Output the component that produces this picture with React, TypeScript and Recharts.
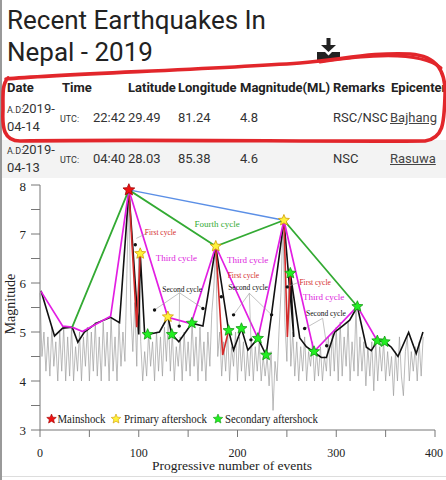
import {
  ComposedChart,
  Line,
  Scatter,
  XAxis,
  YAxis,
  ReferenceLine
} from "recharts";

// raw magnitudes, one value every 2 events (event = index * 2)
const noiseMag = [
  5.8, 4.5, 5.0, 4.2, 4.9, 4.1, 5.1, 4.3, 4.8, 4.0,
  5.0, 4.2, 5.1, 4.0, 4.9, 4.1, 5.1, 4.0, 4.7, 4.2,
  5.0, 4.0, 4.9, 4.3, 5.1, 4.0, 5.0, 4.2, 5.2, 4.1,
  4.9, 4.0, 5.2, 4.3, 5.0, 4.0, 5.3, 4.2, 4.9, 4.0,
  5.2, 4.3, 5.0, 4.4, 6.2, 7.9, 5.4, 4.6, 5.6, 4.3,
  6.6, 4.8, 4.0, 4.6, 4.1, 5.0, 4.3, 4.8, 4.0, 5.0,
  4.2, 4.9, 4.1, 5.1, 4.4, 5.3, 4.2, 5.0, 4.0, 4.7,
  4.3, 4.9, 4.0, 5.0, 4.2, 4.8, 4.1, 5.2, 4.3, 4.9,
  4.0, 5.1, 4.2, 4.8, 4.0, 5.0, 4.3, 5.4, 5.9, 6.75,
  4.5, 5.0, 4.1, 4.8, 4.2, 5.0, 4.0, 4.7, 4.3, 5.0,
  4.0, 4.9, 4.2, 4.8, 4.0, 4.6, 4.1, 4.9, 4.0, 4.7,
  4.2, 4.8, 4.0, 4.5, 4.1, 4.5, 3.9, 4.6, 3.4, 4.4,
  4.0, 5.0, 5.8, 7.28, 5.2, 4.4, 6.2, 4.3, 5.0, 4.1,
  4.8, 4.0, 4.7, 4.2, 4.9, 4.0, 4.6, 4.3, 4.8, 4.0,
  4.6, 4.1, 4.7, 4.0, 4.5, 4.2, 4.9, 4.1, 5.0, 4.2,
  5.1, 4.0, 5.2, 4.1, 4.9, 4.3, 5.2, 4.0, 4.8, 4.2,
  5.5, 4.1, 4.9, 4.2, 4.8, 3.9, 4.7, 4.1, 4.8, 3.8,
  4.8, 4.0, 4.7, 4.2, 4.8, 4.0, 4.6, 4.1, 4.5, 3.7,
  4.6, 4.0, 4.9, 4.1, 3.7, 4.6, 4.9, 4.0, 4.6, 4.2,
  4.7, 4.0, 4.8, 4.1, 4.9
];

// [event, magnitude]
const secondCycle = [
  [1, 5.84], [14.7, 4.92], [23, 5.08], [32.6, 5.1], [38.3, 4.79], [45, 5.0],
  [57, 5.18], [71.5, 5.3], [80.5, 5.19], [90, 7.9], [100, 4.95], [101.5, 6.6],
  [106, 4.95], [109, 4.95], [121, 5.0], [129.5, 5.31], [133.5, 4.95], [140.6, 4.8],
  [153.8, 5.18], [165, 5.12], [178, 6.75], [191, 5.03], [196, 4.63], [204, 5.07],
  [210.5, 4.63], [220.7, 4.87], [229, 4.53], [247, 7.28], [257, 4.9], [253.5, 6.2],
  [263, 4.88], [269.7, 4.7], [284.9, 4.48], [290, 4.48], [298.4, 5.0], [305, 5.1],
  [313.6, 5.24], [321.4, 5.52], [330.5, 4.69], [335.5, 4.62], [341.6, 4.82], [349, 4.8],
  [355.8, 4.69], [362.5, 4.5], [373.3, 4.99], [381, 4.56], [387.8, 5.0]
];
const firstCycleA = [[90, 7.9], [98, 5.1], [101.5, 6.6]];
const firstCycleB = [[178, 6.75], [185, 4.53], [191, 5.03]];
const firstCycleC = [[247, 7.28], [250.5, 4.9], [253.5, 6.2]];
const thirdCycle = [
  [1, 5.83], [23, 5.12], [32.6, 5.1], [43, 5.01], [71.5, 5.32], [90, 7.9],
  [129.5, 5.3], [153, 5.17], [178, 6.75], [220.7, 4.87], [247, 7.28],
  [277.5, 4.6], [321.4, 5.52], [341.6, 4.82]
];
const fourthCycle = [[32.6, 5.1], [90, 7.9], [178, 6.75], [247, 7.28], [321.4, 5.52]];
const topLink = [[90, 7.9], [247, 7.28]];

const mainshock = [[90, 7.9]];
const primaryAftershocks = [[101.5, 6.6], [129.5, 5.31], [178, 6.75], [247, 7.28]];
const secondaryAftershocks = [
  [109, 4.95], [133.5, 4.95], [153.8, 5.18], [191, 5.03], [204, 5.07], [220.7, 4.87],
  [229, 4.53], [253.5, 6.2], [277.5, 4.6], [321.4, 5.52], [341.6, 4.82], [349, 4.8]
];
const secondCycleDots = [
  [96.5, 6.78], [116, 5.45], [141, 5.12], [165, 5.48], [183.6, 5.72], [196, 5.35],
  [213.6, 4.84], [234.5, 5.35], [250.4, 5.92], [268, 5.07], [290.3, 4.72]
];

const cycleLabels = [
  { text: "First cycle", x: 122, m: 7.04 },
  { text: "Third cycle", x: 138, m: 6.51 },
  { text: "Fourth cycle", x: 179.3, m: 7.2 },
  { text: "Second cycle", x: 144, m: 5.88 },
  { text: "First cycle", x: 206, m: 6.16 },
  { text: "Third cycle", x: 210.2, m: 6.47 },
  { text: "Second cycle", x: 210.7, m: 5.92 },
  { text: "First cycle", x: 278.6, m: 6.02 },
  { text: "Third cycle", x: 287.2, m: 5.71 },
  { text: "Second cycle", x: 289.6, m: 5.39 }
];
// pointer lines from labels to the points they mark
const leaders = [
  [[141.3, 5.8], [116, 5.45]], [[141.3, 5.8], [141, 5.12]], [[141.3, 5.8], [165, 5.48]],
  [[212, 5.79], [196, 5.35]], [[212, 5.79], [213.6, 4.84]], [[212, 5.79], [234.5, 5.35]],
  [[286.2, 5.28], [268, 5.07]], [[286.2, 5.28], [290.3, 4.72]],
  [[107.6, 7.01], [97.5, 6.91]], [[263, 6.02], [251, 5.93]]
];

const xTicks = [0, 50, 100, 150, 200, 250, 300, 350, 400];
const yTicks = [3, 3.5, 4, 4.5, 5, 5.5, 6, 6.5, 7, 7.5, 8];

const legendItems = ["Mainshock", "Primary aftershock", "Secondary aftershock"];

const tableHeader = ["Date", "Time", "Latitude", "Longitude", "Magnitude(ML)", "Remarks", "Epicenter"];
const quakeDates = [["2019-", "04-14"], ["2019-", "04-13"]];
const quakeTimes = ["22:42", "04:40"];
const quakeLat = ["29.49", "28.03"];
const quakeLon = ["81.24", "85.38"];
const quakeMag = ["4.8", "4.6"];
const quakeRemarks = ["RSC/NSC", "NSC"];
const quakeEpicenter = ["Bajhang", "Rasuwa"];

const pts = (arr) => arr.map(([x, m]) => ({ x, m }));
const noiseData = noiseMag.map((m, i) => ({ x: i * 2, m }));

const labelColors = {
  "First cycle": "#d42a2a",
  "Second cycle": "#111",
  "Third cycle": "#dd22dd",
  "Fourth cycle": "#33aa33"
};

const SERIF = "'Liberation Serif', 'Times New Roman', serif";

const starPoints = (cx, cy, r) => {
  const p = [];
  for (let i = 0; i < 10; i++) {
    const rad = i % 2 === 0 ? r : r * 0.45;
    const a = -Math.PI / 2 + (i * Math.PI) / 5;
    p.push(`${cx + rad * Math.cos(a)},${cy + rad * Math.sin(a)}`);
  }
  return p.join(" ");
};

const starShape = (fill, stroke, r) => (props) => (
  <polygon points={starPoints(props.cx, props.cy, r)} fill={fill} stroke={stroke} strokeWidth={0.8} />
);

const Txt = ({ x, base, size = 13, bold = false, color = "#333", underline = false, children }) => (
  <div
    style={{
      position: "absolute",
      left: x,
      top: base - size * 0.928,
      fontSize: size,
      lineHeight: "normal",
      fontWeight: bold ? 700 : 400,
      color,
      whiteSpace: "nowrap",
      textDecoration: underline ? "underline" : "none",
      fontFamily: "Roboto, sans-serif"
    }}
  >
    {children}
  </div>
);

const colX = [7, 62, 128, 178, 240, 333, 391];

const Row = ({ i, top }) => (
  <>
    <Txt x={7} base={top} size={9}>A.D:</Txt>
    <Txt x={22} base={top}>{quakeDates[i][0]}</Txt>
    <Txt x={7} base={top + 18}>{quakeDates[i][1]}</Txt>
    <Txt x={60} base={top + 9} size={9}>UTC:</Txt>
    <Txt x={93} base={top + 9}>{quakeTimes[i]}</Txt>
    <Txt x={colX[2]} base={top + 9}>{quakeLat[i]}</Txt>
    <Txt x={colX[3]} base={top + 9}>{quakeLon[i]}</Txt>
    <Txt x={colX[4]} base={top + 9}>{quakeMag[i]}</Txt>
    <Txt x={colX[5]} base={top + 9}>{quakeRemarks[i]}</Txt>
    <Txt x={colX[6] - 1} base={top + 9} underline color="#444">{quakeEpicenter[i]}</Txt>
  </>
);

const XTick = ({ x, y, payload }) =>
  payload.value % 100 === 0 ? (
    <text x={x} y={y} dy="0.71em" textAnchor="middle" fontSize={12} fontFamily={SERIF} fill="#222">
      {payload.value}
    </text>
  ) : (
    <g />
  );

const YTick = ({ x, y, payload }) =>
  Number.isInteger(payload.value) ? (
    <text x={x} y={y} dy="0.35em" textAnchor="end" fontSize={13} fontFamily={SERIF} fill="#222">
      {payload.value}
    </text>
  ) : (
    <g />
  );

const CycleLabel = (props) => (
  <text
    x={props.cx}
    y={props.cy}
    dy="0.35em"
    textAnchor="middle"
    fontSize={props.payload.text === "Third cycle" || props.payload.text === "Fourth cycle" ? 9 : 7.5}
    fontFamily={SERIF}
    fill={labelColors[props.payload.text]}
  >
    {props.payload.text}
  </text>
);

const Dot = (props) => <circle cx={props.cx} cy={props.cy} r={1.7} fill="#111" />;

const lineProps = { dot: false, activeDot: false, isAnimationActive: false, dataKey: "m", type: "linear" };

const App = () => (
  <div style={{ position: "absolute", left: 0, top: 0, width: 446, height: 480, overflow: "hidden", background: "#fff" }}>
    <div style={{ position: "absolute", left: 0, top: 0, width: 2, height: 480, background: "#999" }} />
    <div style={{ position: "absolute", left: 2, top: 140, width: 444, height: 38, background: "#f3f3f3" }} />
    <div style={{ position: "absolute", left: 2, top: 476, width: 444, height: 1, background: "#ddd" }} />

    <div
      style={{
        position: "absolute",
        left: 7,
        top: 4,
        fontSize: 26,
        lineHeight: "32px",
        color: "#222",
        fontFamily: "Roboto, sans-serif"
      }}
    >
      Recent Earthquakes In
      <br />
      Nepal - 2019
    </div>

    <svg style={{ position: "absolute", left: 316, top: 38 }} width={26} height={24}>
      <rect x={10.5} y={0} width={4} height={8} fill="#222" />
      <polygon points="5,7 20,7 12.5,14" fill="#222" />
      <path d="M1 14 h8 l3.5 3.5 l3.5 -3.5 h8 v8 h-23 z" fill="#222" />
    </svg>

    {tableHeader.map((h, i) => (
      <Txt key={h} x={colX[i]} base={92} bold color="#222">
        {h}
      </Txt>
    ))}
    <Row i={0} top={113} />
    <Row i={1} top={154} />

    <svg style={{ position: "absolute", left: 0, top: 0 }} width={446} height={180}>
      <path
        d="M6,79 C60,74 200,70 300,63 C340,60 372,52 410,54 C438,56 446,72 445,96 C444,122 444,138 425,141 C330,142 150,139 20,141 C4,141 2,128 3,110 C3,95 2,84 8,78"
        fill="none"
        stroke="#e2262b"
        strokeWidth={3.6}
        strokeLinecap="round"
      />
      <path d="M320,62 C365,55 420,50 441,68" fill="none" stroke="#e2262b" strokeWidth={3} strokeLinecap="round" />
    </svg>

    <div style={{ position: "absolute", left: 0, top: 177 }}>
      <ComposedChart width={446} height={303} margin={{ top: 8, right: 11, bottom: 0, left: 0 }}>
        <XAxis
          type="number"
          dataKey="x"
          domain={[0, 400]}
          ticks={xTicks}
          tickSize={7}
          tickMargin={11}
          height={50}
          stroke="#777"
          tick={XTick}
          label={{
            content: () => (
              <text x={232} y={293} textAnchor="middle" fontSize={13.5} fontFamily={SERIF} fill="#222">
                Progressive number of events
              </text>
            )
          }}
        />
        <YAxis
          type="number"
          dataKey="m"
          domain={[3, 8]}
          ticks={yTicks}
          width={40}
          tickSize={9}
          tickMargin={5}
          stroke="#777"
          tick={YTick}
          label={{
            content: () => (
              <text transform="rotate(-90, 10, 127)" x={10} y={127} dy="0.35em" textAnchor="middle" fontSize={14} fontFamily={SERIF} fill="#222">
                Magnitude
              </text>
            )
          }}
        />
        <Line {...lineProps} data={noiseData} stroke="#9d9d9d" strokeWidth={0.7} />
        <Line {...lineProps} data={pts(secondCycle)} stroke="#111" strokeWidth={1.6} />
        <Line {...lineProps} data={pts(firstCycleA)} stroke="#d42a2a" strokeWidth={1.6} />
        <Line {...lineProps} data={pts(firstCycleB)} stroke="#d42a2a" strokeWidth={1.6} />
        <Line {...lineProps} data={pts(firstCycleC)} stroke="#d42a2a" strokeWidth={1.6} />
        <Line {...lineProps} data={pts(thirdCycle)} stroke="#e21ee2" strokeWidth={1.7} />
        <Line {...lineProps} data={pts(fourthCycle)} stroke="#33aa33" strokeWidth={1.8} />
        <Line {...lineProps} data={pts(topLink)} stroke="#5b8fe6" strokeWidth={1.4} />
        {leaders.map((seg, i) => (
          <ReferenceLine
            key={i}
            segment={[{ x: seg[0][0], y: seg[0][1] }, { x: seg[1][0], y: seg[1][1] }]}
            stroke="#999"
            strokeWidth={0.6}
            ifOverflow="visible"
          />
        ))}
        <Scatter data={pts(secondCycleDots)} dataKey="m" shape={Dot} isAnimationActive={false} />
        <Scatter data={pts(secondaryAftershocks)} dataKey="m" shape={starShape("#22ee22", "#119911", 5.8)} isAnimationActive={false} />
        <Scatter data={pts(primaryAftershocks)} dataKey="m" shape={starShape("#fff23a", "#d09a00", 5.8)} isAnimationActive={false} />
        <Scatter data={pts(mainshock)} dataKey="m" shape={starShape("#ee1111", "#a00000", 6.2)} isAnimationActive={false} />
        <Scatter data={cycleLabels} dataKey="m" shape={CycleLabel} isAnimationActive={false} />
      </ComposedChart>
    </div>

    <svg style={{ position: "absolute", left: 0, top: 405 }} width={340} height={28}>
      <polygon points={starPoints(51.5, 14, 5)} fill="#ee1111" stroke="#a00000" strokeWidth={0.6} />
      <text x={57.5} y={18} fontSize={12} fontFamily={SERIF} fill="#222" textLength={48} lengthAdjust="spacingAndGlyphs">
        {legendItems[0]}
      </text>
      <polygon points={starPoints(116, 14, 5)} fill="#fff23a" stroke="#d09a00" strokeWidth={0.6} />
      <text x={124} y={18} fontSize={12} fontFamily={SERIF} fill="#222" textLength={83} lengthAdjust="spacingAndGlyphs">
        {legendItems[1]}
      </text>
      <polygon points={starPoints(218, 14, 5)} fill="#22ee22" stroke="#119911" strokeWidth={0.6} />
      <text x={225} y={18} fontSize={12} fontFamily={SERIF} fill="#222" textLength={93} lengthAdjust="spacingAndGlyphs">
        {legendItems[2]}
      </text>
    </svg>
  </div>
);

export default App;
